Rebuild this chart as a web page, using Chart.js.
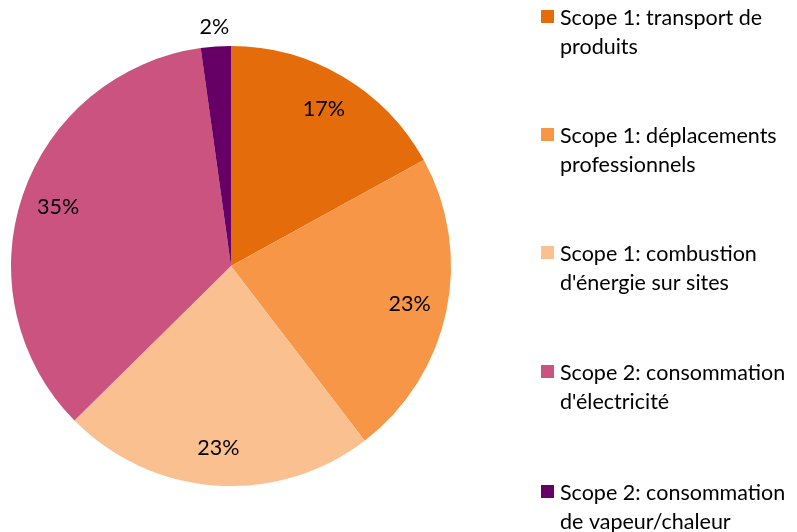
<!DOCTYPE html>
<html><head><meta charset="utf-8">
<script src="https://cdn.jsdelivr.net/npm/chart.js@4"></script>
<style>
html,body{margin:0;padding:0;background:#fff;}
#wrap{position:relative;width:797px;height:532px;}
canvas{position:absolute;left:0;top:0;}
</style></head><body>
<div id="wrap"><canvas id="c" width="797" height="532"></canvas></div>
<script>
const categories = [
  ['Scope 1: transport de', 'produits'],
  ['Scope 1: déplacements', 'professionnels'],
  ['Scope 1: combustion', "d'énergie sur sites"],
  ['Scope 2: consommation', "d'électricité"],
  ['Scope 2: consommation', 'de vapeur/chaleur']
];
const values = [17.0, 22.6, 23.0, 35.2, 2.2];
const pctLabels = ['17%', '23%', '23%', '35%', '2%'];
const colors = ['#E46C0A', '#F79646', '#FAC090', '#CB5380', '#660066'];

const FONT = '21.5px Lato, "Open Sans", sans-serif';

const labelPlugin = {
  id: 'pctLabels',
  afterDatasetsDraw(chart) {
    const ctx = chart.ctx;
    const meta = chart.getDatasetMeta(0);
    ctx.save();
    ctx.font = FONT;
    ctx.fillStyle = '#000';
    ctx.textAlign = 'center';
    ctx.textBaseline = 'middle';
    meta.data.forEach((arc, i) => {
      const mid = (arc.startAngle + arc.endAngle) / 2;
      const r = values[i] < 5 ? arc.outerRadius + 20 : arc.outerRadius * 0.83;
      ctx.fillText(pctLabels[i], arc.x + Math.cos(mid) * r, arc.y + Math.sin(mid) * r);
    });
    ctx.restore();
  }
};

const legendPlugin = {
  id: 'sideLegend',
  afterDraw(chart) {
    const ctx = chart.ctx;
    ctx.save();
    ctx.font = FONT;
    ctx.textBaseline = 'middle';
    ctx.textAlign = 'left';
    const ys = [17, 135, 253, 372, 492];
    categories.forEach((lines, i) => {
      const y = ys[i];
      ctx.fillStyle = colors[i];
      ctx.fillRect(541, y - 7, 13, 13);
      ctx.fillStyle = '#000';
      lines.forEach((t, j) => ctx.fillText(t, 560, y + 1 + j * 29));
    });
    ctx.restore();
  }
};

new Chart(document.getElementById('c'), {
  type: 'pie',
  data: {
    labels: categories,
    datasets: [{
      data: values,
      backgroundColor: colors,
      borderWidth: 0
    }]
  },
  options: {
    responsive: false,
    animation: false,
    layout: { padding: { top: 46, bottom: 46, left: 11, right: 346 } },
    plugins: { legend: { display: false }, tooltip: { enabled: false } }
  },
  plugins: [labelPlugin, legendPlugin]
});
</script>
</body></html>
